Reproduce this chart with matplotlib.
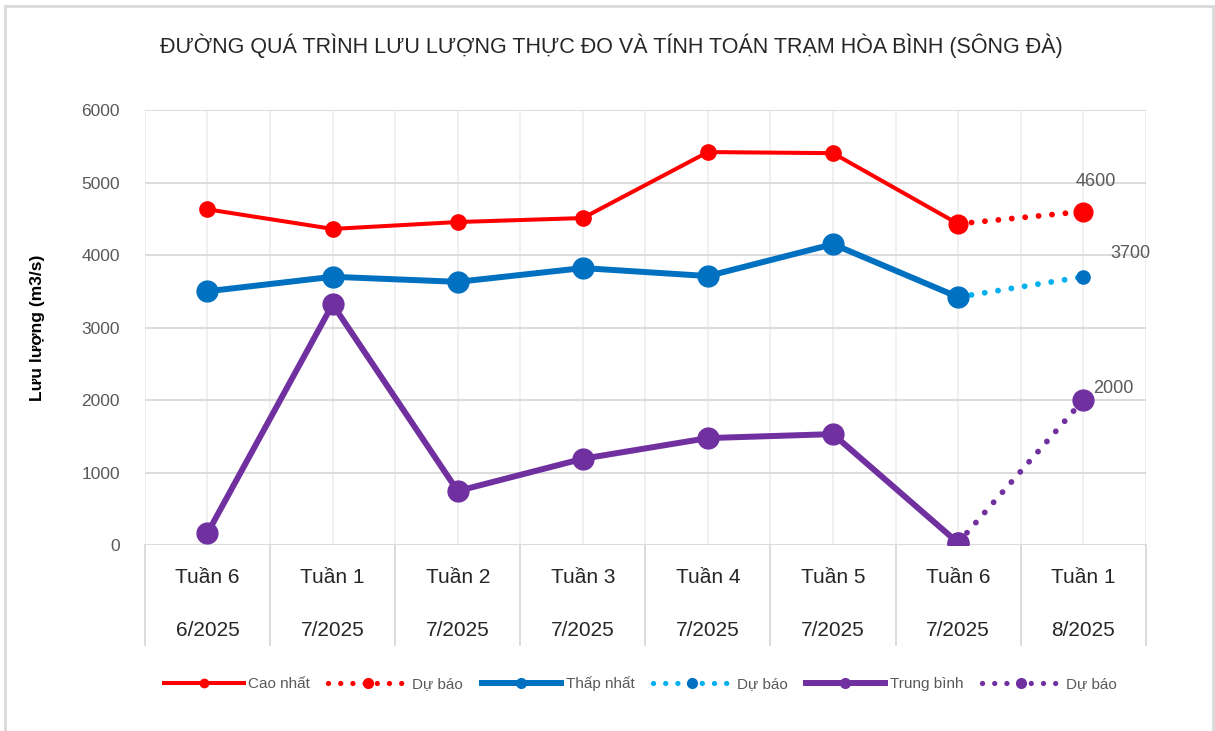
import numpy as np
import matplotlib.pyplot as plt
from matplotlib.lines import Line2D
from matplotlib.patches import Rectangle
import matplotlib.font_manager as fm

weeks = ['Tuần 6', 'Tuần 1', 'Tuần 2', 'Tuần 3', 'Tuần 4', 'Tuần 5', 'Tuần 6', 'Tuần 1']
months = ['6/2025', '7/2025', '7/2025', '7/2025', '7/2025', '7/2025', '7/2025', '8/2025']

cao_nhat = [4630, 4360, 4455, 4510, 5420, 5405, 4430, np.nan]
cao_du_bao = [np.nan, np.nan, np.nan, np.nan, np.nan, np.nan, 4430, 4600]
thap_nhat = [3500, 3700, 3630, 3820, 3710, 4150, 3420, np.nan]
thap_du_bao = [np.nan, np.nan, np.nan, np.nan, np.nan, np.nan, 3420, 3700]
trung_binh = [165, 3320, 745, 1190, 1475, 1530, 30, np.nan]
tb_du_bao = [np.nan, np.nan, np.nan, np.nan, np.nan, np.nan, 30, 2000]

names = [f.name for f in fm.fontManager.ttflist]
narrow = 'Liberation Sans Narrow' if 'Liberation Sans Narrow' in names else 'Liberation Sans'
plt.rcParams['font.family'] = ['Liberation Sans', 'DejaVu Sans']

RED = '#FF0000'
BLUE = '#0070C0'
LBLUE = '#00B0F0'
PURPLE = '#7030A0'
GREY = '#595959'

fig = plt.figure(figsize=(12.15, 7.31), dpi=100)
ax = fig.add_axes([0.1193, 0.2544, 0.8237, 0.5951])

# chart border
fig.patches.append(Rectangle((5 / 1215, -0.05), 1208 / 1215, 1 - 6 / 731 + 0.05,
                             transform=fig.transFigure, fill=False,
                             edgecolor='#D9D9D9', linewidth=2))

x = np.arange(len(weeks))
dot = (0, (0.01, 2.3))

ax.plot(x, cao_nhat, color=RED, lw=2.9, marker='o', ms=11, zorder=3)
ax.plot(x, cao_du_bao, color=RED, lw=4.2, ls=dot, dash_capstyle='round',
        marker='o', ms=13.5, zorder=4)
ax.plot(x, thap_du_bao, color=LBLUE, lw=4.2, ls=dot, dash_capstyle='round',
        marker='o', ms=9.5, mfc=BLUE, mec=BLUE, zorder=3)
ax.plot(x, thap_nhat, color=BLUE, lw=4.3, marker='o', ms=15, zorder=4)
ax.plot(x, trung_binh, color=PURPLE, lw=4.3, marker='o', ms=15, zorder=3)
ax.plot(x, tb_du_bao, color=PURPLE, lw=4.2, ls=dot, dash_capstyle='round',
        marker='o', ms=15, zorder=4)

ax.text(x[-1] + 0.1, cao_du_bao[-1] + 290, '4600', fontsize=13, color=GREY,
        ha='center', va='bottom')
ax.text(x[-1] + 0.22, thap_du_bao[-1] + 200, '3700', fontsize=13, color=GREY,
        ha='left', va='bottom')
ax.text(x[-1] + 0.08, tb_du_bao[-1] + 40, '2000', fontsize=13, color=GREY,
        ha='left', va='bottom')

ax.set_xlim(-0.5, len(weeks) - 0.5)
ax.set_ylim(0, 6000)
ax.set_yticks(range(0, 6001, 1000))
ax.tick_params(axis='y', length=0, labelsize=12.5, labelcolor=GREY, pad=18)
ax.set_xticks([])

for v in range(1000, 6001, 1000):
    ax.axhline(v, color='#D9D9D9', lw=1.3, zorder=1)
for v in np.arange(-0.5, len(weeks), 0.5):
    ax.axvline(v, color='#EFEFEF', lw=1.3, zorder=0.5)
ax.axhline(0, color='#D9D9D9', lw=1.3, zorder=1)
for s in ax.spines.values():
    s.set_visible(False)

# category labels and separators below axis
trans = ax.get_xaxis_transform()
for i in range(len(weeks)):
    ax.text(i, -0.075, weeks[i], transform=trans, ha='center', va='center',
            fontsize=15, family=[narrow, 'DejaVu Sans'], color='#262626')
    ax.text(i, -0.197, months[i], transform=trans, ha='center', va='center',
            fontsize=15, family=[narrow, 'DejaVu Sans'], color='#262626')
for b in np.arange(-0.5, len(weeks), 1.0):
    ax.add_line(Line2D([b, b], [0, -0.23], transform=trans, color='#D9D9D9',
                       lw=1.3, clip_on=False))

ax.set_ylabel('Lưu lượng (m3/s)', fontsize=12.5, fontweight='bold', labelpad=22)
ax.yaxis.set_label_coords(-0.1, 0.5)

fig.text(0.503, 0.938, 'ĐƯỜNG QUÁ TRÌNH LƯU LƯỢNG THỰC ĐO VÀ TÍNH TOÁN TRẠM HÒA BÌNH (SÔNG ĐÀ)',
         ha='center', va='center', fontsize=15.5, family=[narrow, 'DejaVu Sans'],
         color='#262626')

handles = [
    Line2D([], [], color=RED, lw=2.9, marker='o', ms=6),
    Line2D([], [], color=RED, lw=3.8, ls=dot, dash_capstyle='round', marker='o', ms=7),
    Line2D([], [], color=BLUE, lw=4.3, marker='o', ms=7),
    Line2D([], [], color=LBLUE, lw=3.8, ls=dot, dash_capstyle='round', marker='o', ms=7,
           mfc=BLUE, mec=BLUE),
    Line2D([], [], color=PURPLE, lw=4.3, marker='o', ms=7),
    Line2D([], [], color=PURPLE, lw=3.8, ls=dot, dash_capstyle='round', marker='o', ms=7),
]
labels = ['Cao nhất', 'Dự báo', 'Thấp nhất', 'Dự báo', 'Trung bình', 'Dự báo']
fig.legend(handles, labels, loc='center', bbox_to_anchor=(0.527, 0.065), ncol=6,
           frameon=False, fontsize=11, handlelength=5.2, handletextpad=0.3,
           columnspacing=1.2, labelcolor=GREY)

fig.savefig('out.png', dpi=100)
